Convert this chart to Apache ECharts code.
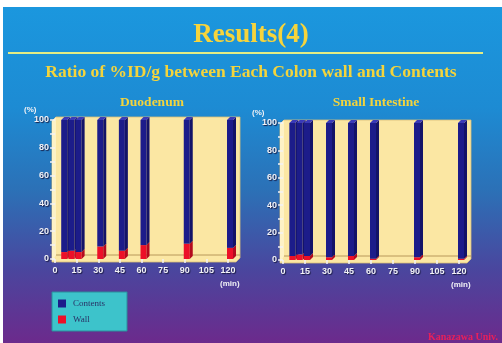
<!DOCTYPE html>
<html>
<head>
<meta charset="utf-8">
<script src="https://cdn.jsdelivr.net/npm/echarts@6/dist/echarts.min.js"></script>
<style>
  html, body { margin: 0; padding: 0; background: #ffffff; }
  #chart { width: 502px; height: 343px; }
</style>
</head>
<body>
<div id="chart"></div>
<script>
// Sampling times (min) and percentage split of %ID/g between wall and contents
const timesDuodenum = [5, 10, 15, 30, 45, 60, 90, 120];
const wallDuodenum = [5, 6, 5, 9, 6, 10, 11, 8];
const contentsDuodenum = [95, 94, 95, 91, 94, 90, 89, 92];

const timesSmallIntestine = [5, 10, 15, 30, 45, 60, 90, 120];
const wallSmallIntestine = [3, 4, 3, 2, 3, 1, 2, 1];
const contentsSmallIntestine = [97, 96, 97, 98, 97, 99, 98, 99];

// Axis ticks
const xTicks = [0, 15, 30, 45, 60, 75, 90, 105, 120];
const yTicks = [0, 20, 40, 60, 80, 100];

const panelTitles = ['Duodenum', 'Small Intestine'];
const seriesNames = ['Contents', 'Wall'];

const COLORS = {
  contents: { front: '#1c1c8a', side: '#131368', top: '#3a3ab8' },
  wall: { front: '#ec1028', side: '#b40a1e', top: '#ff4a5a' }
};

const grids = [
  { left: 55, top: 120, width: 173, height: 139 },
  { left: 283, top: 123, width: 176, height: 137 }
];

// Builds [time, low, high] rows for a stacked prism
function wallRows(times, wall) {
  return times.map((t, i) => [t, 0, wall[i]]);
}
function contentRows(times, wall, contents) {
  return times.map((t, i) => [t, wall[i], wall[i] + contents[i]]);
}

// Draws a small 3D prism segment between two values at one time point
function prism(c, withTop) {
  return function (params, api) {
    const t = api.value(0), lo = api.value(1), hi = api.value(2);
    const p0 = api.coord([t, lo]);
    const p1 = api.coord([t, hi]);
    const w = 6, d = 3;
    const x = p0[0] - 1;
    const children = [
      { type: 'rect', shape: { x: x, y: p1[1], width: w, height: p0[1] - p1[1] }, style: { fill: c.front } },
      { type: 'polygon', shape: { points: [[x + w, p0[1]], [x + w, p1[1]], [x + w + d, p1[1] - d], [x + w + d, p0[1] - d]] }, style: { fill: c.side } }
    ];
    if (withTop) {
      children.push({ type: 'polygon', shape: { points: [[x, p1[1]], [x + w, p1[1]], [x + w + d, p1[1] - d], [x + d, p1[1] - d]] }, style: { fill: c.top } });
    }
    return { type: 'group', children: children };
  };
}

const axisLabelStyle = {
  color: '#f2f2f6', fontSize: 9, fontWeight: 'bold', fontFamily: 'Liberation Sans',
  textShadowColor: 'rgba(20,20,60,0.9)', textShadowOffsetX: 1, textShadowOffsetY: 1, textShadowBlur: 1
};

function xAxisFor(i) {
  return {
    type: 'value', gridIndex: i, min: xTicks[0], max: xTicks[xTicks.length - 1],
    interval: xTicks[1] - xTicks[0], offset: 3,
    axisLine: { show: false }, splitLine: { show: false },
    axisTick: { show: true, length: 4, lineStyle: { color: '#f2f2f6', width: 1.5 } },
    axisLabel: Object.assign({ margin: 4 }, axisLabelStyle)
  };
}
function yAxisFor(i) {
  return {
    type: 'value', gridIndex: i, min: yTicks[0], max: yTicks[yTicks.length - 1],
    interval: yTicks[1] - yTicks[0], offset: 3,
    axisLine: { show: false }, splitLine: { show: false },
    axisTick: { show: true, length: 5, lineStyle: { color: '#f2f2f6', width: 1.5 } },
    minorTick: { show: true, splitNumber: 2, length: 5, lineStyle: { color: '#f2f2f6', width: 1.5 } },
    axisLabel: Object.assign({ margin: 3 }, axisLabelStyle)
  };
}

// Backdrop: slide gradient, heading rule and the 3D wall behind each plot
const graphics = [
  {
    type: 'rect', z: -20, shape: { x: 3, y: 7, width: 499, height: 336 },
    style: {
      fill: new echarts.graphic.LinearGradient(0, 0, 0, 1, [
        { offset: 0, color: '#1b97de' },
        { offset: 0.3, color: '#1d8bd3' },
        { offset: 0.55, color: '#2c70b6' },
        { offset: 0.78, color: '#4a469e' },
        { offset: 1, color: '#6c2a8c' }
      ])
    }
  },
  { type: 'line', z: -19, shape: { x1: 8, y1: 53, x2: 483, y2: 53 }, style: { stroke: '#e4ec84', lineWidth: 2 } },
  {
    type: 'text', z: 10, left: 'center', top: 22,
    style: { text: 'Results(4)', font: 'bold 27px "Liberation Serif"', fill: '#f6d43c',
      shadowColor: 'rgba(30,30,40,0.85)', shadowOffsetX: 1.5, shadowOffsetY: 1.5, shadowBlur: 1 }
  },
  {
    type: 'text', z: 10, left: 'center', top: 63,
    style: { text: 'Ratio of %ID/g between Each Colon wall and Contents', font: 'bold 17.5px "Liberation Serif"', fill: '#f4d43c',
      shadowColor: 'rgba(30,30,40,0.85)', shadowOffsetX: 1.2, shadowOffsetY: 1.2, shadowBlur: 1 }
  },
  {
    type: 'text', z: 10, right: 4, top: 332,
    style: { text: 'Kanazawa Univ.', font: 'bold 10px "Liberation Serif"', fill: '#e8205a' }
  }
];

const titleCenters = [152, 376];
grids.forEach((g, i) => {
  const x0 = g.left - 3, x1 = g.left + g.width + 12;
  const yTop = g.top - 3, yBot = g.top + g.height + 3;
  graphics.push({
    type: 'polygon', z: -10,
    shape: { points: [[x0, yTop + 4], [x0 + 4, yTop], [x1, yTop], [x1, yBot - 4], [x1 - 4, yBot], [x0, yBot]] },
    style: { fill: '#fbe7a3', stroke: '#d9bf78', lineWidth: 0.8 }
  });
  graphics.push({
    type: 'polygon', z: -9,
    shape: { points: [[x0, yTop + 4], [x0 + 4, yTop], [x0 + 4, yBot - 7], [x0, yBot]] },
    style: { fill: '#fdf2c6' }
  });
  graphics.push({
    type: 'line', z: -9, shape: { x1: x0 + 4, y1: yBot - 7, x2: x1, y2: yBot - 7 },
    style: { stroke: '#b8985a', lineWidth: 1 }
  });
  graphics.push({
    type: 'text', z: 10, x: titleCenters[i], y: 103,
    style: { text: panelTitles[i], font: 'bold 13.5px "Liberation Serif"', fill: '#f4d43c', align: 'center', verticalAlign: 'middle',
      shadowColor: 'rgba(30,30,40,0.85)', shadowOffsetX: 1, shadowOffsetY: 1, shadowBlur: 1 }
  });
  graphics.push({
    type: 'text', z: 10, x: g.left - 31, y: g.top - 10,
    style: { text: '(%)', font: 'bold 8px "Liberation Sans"', fill: '#f2f2f6', verticalAlign: 'middle' }
  });
  graphics.push({
    type: 'text', z: 10, x: g.left + g.width - 8, y: g.top + g.height + 25,
    style: { text: '(min)', font: 'bold 8px "Liberation Sans"', fill: '#f2f2f6', verticalAlign: 'middle',
      shadowColor: 'rgba(20,20,60,0.9)', shadowOffsetX: 1, shadowOffsetY: 1 }
  });
});

const panels = [
  { times: timesDuodenum, wall: wallDuodenum, contents: contentsDuodenum },
  { times: timesSmallIntestine, wall: wallSmallIntestine, contents: contentsSmallIntestine }
];

const series = [];
panels.forEach((p, i) => {
  series.push({
    name: seriesNames[1], type: 'custom', xAxisIndex: i, yAxisIndex: i,
    renderItem: prism(COLORS.wall, false), itemStyle: { color: COLORS.wall.front },
    encode: { x: 0, y: [1, 2] }, data: wallRows(p.times, p.wall), z: 3
  });
  series.push({
    name: seriesNames[0], type: 'custom', xAxisIndex: i, yAxisIndex: i,
    renderItem: prism(COLORS.contents, true), itemStyle: { color: COLORS.contents.front },
    encode: { x: 0, y: [1, 2] }, data: contentRows(p.times, p.wall, p.contents), z: 3
  });
});

const chart = echarts.init(document.getElementById('chart'), null, { renderer: 'canvas' });
chart.setOption({
  animation: false,
  backgroundColor: 'transparent',
  grid: grids,
  xAxis: [xAxisFor(0), xAxisFor(1)],
  yAxis: [yAxisFor(0), yAxisFor(1)],
  legend: {
    data: seriesNames, orient: 'vertical', left: 52, top: 292,
    backgroundColor: '#3dc3cb', borderColor: '#2b8f9c', borderWidth: 1,
    padding: [7, 22, 7, 6], itemGap: 7, itemWidth: 8, itemHeight: 8, icon: 'rect',
    textStyle: { fontFamily: 'Liberation Serif', fontSize: 9, color: '#2a3266', padding: [0, 0, 0, 2] }
  },
  graphic: graphics,
  series: series
});
</script>
</body>
</html>
